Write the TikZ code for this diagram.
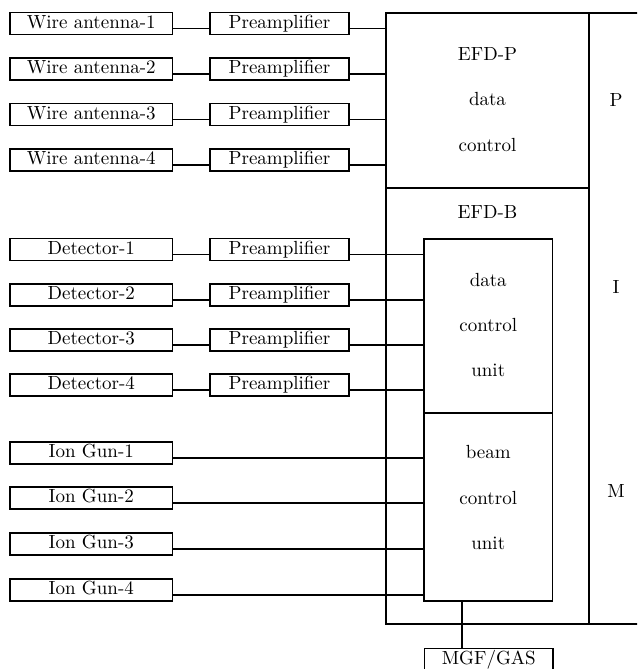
\documentclass[tikz,border=0pt]{standalone}
\usepackage{amsmath}
\tikzset{box/.style={draw, rectangle, line width=0.7pt, inner sep=0pt, minimum height=11pt,
    text height=6.8pt, text depth=2pt, font=\fontsize{9.5}{11}\selectfont},
  frame/.style={draw, rectangle, line width=0.7pt, inner sep=0pt},
  lbl/.style={anchor=base, inner sep=0pt, font=\fontsize{9.5}{11}\selectfont},
  line/.style={draw, line width=0.7pt}}

\begin{document}
\begin{tikzpicture}[x=0.5pt,y=-0.5pt]
    \useasboundingbox (0,0) rectangle (637,669);
    \clip (0,0) rectangle (637,669);
    % sensors
    \node[box, minimum width=81.35pt] (ant1) at (91.3,23.5) {Wire antenna-1};
    \node[box, minimum width=81.35pt] (ant2) at (91.3,69) {Wire antenna-2};
    \node[box, minimum width=81.35pt] (ant3) at (91.3,114.5) {Wire antenna-3};
    \node[box, minimum width=81.35pt] (ant4) at (91.3,160) {Wire antenna-4};
    \node[box, minimum width=81.35pt] (det1) at (91.3,249.5) {Detector-1};
    \node[box, minimum width=81.35pt] (det2) at (91.3,295) {Detector-2};
    \node[box, minimum width=81.35pt] (det3) at (91.3,340) {Detector-3};
    \node[box, minimum width=81.35pt] (det4) at (91.3,385) {Detector-4};
    \node[box, minimum width=81.35pt] (gun1) at (91.3,453) {Ion Gun-1};
    \node[box, minimum width=81.35pt] (gun2) at (91.3,498) {Ion Gun-2};
    \node[box, minimum width=81.35pt] (gun3) at (91.3,544) {Ion Gun-3};
    \node[box, minimum width=81.35pt] (gun4) at (91.3,590) {Ion Gun-4};
    % preamplifiers
    \node[box, minimum width=69.5pt] (pa1) at (279.5,23.5) {Preamplifier};
    \node[box, minimum width=69.5pt] (pa2) at (279.5,69) {Preamplifier};
    \node[box, minimum width=69.5pt] (pa3) at (279.5,114.5) {Preamplifier};
    \node[box, minimum width=69.5pt] (pa4) at (279.5,160) {Preamplifier};
    \node[box, minimum width=69.5pt] (pd1) at (279.5,249.5) {Preamplifier};
    \node[box, minimum width=69.5pt] (pd2) at (279.5,295) {Preamplifier};
    \node[box, minimum width=69.5pt] (pd3) at (279.5,340) {Preamplifier};
    \node[box, minimum width=69.5pt] (pd4) at (279.5,385) {Preamplifier};
    % electronics
    \node[frame, minimum width=101.5pt, minimum height=87.5pt] (efdp) at (487.5,100.5) {};
    \node[frame, minimum width=101.5pt, minimum height=218pt] (efdb) at (487.5,406) {};
    \node[frame, minimum width=30.5pt, minimum height=305.5pt] (pim) at (619.5,318.5) {};
    \node[frame, minimum width=64.25pt, minimum height=87pt] (dcu) at (488.25,326) {};
    \node[frame, minimum width=64.25pt, minimum height=94pt] (bcu) at (488.25,507) {};
    \node[box, minimum width=64.25pt, anchor=north] (mgf) at (488.75,648) {MGF/GAS};
    \node[lbl] (tp1) at (487.5,60) {EFD-P};
    \node[lbl] (tp2) at (487.5,105) {data};
    \node[lbl] (tp3) at (487.5,151) {control};
    \node[lbl] (tb1) at (487.5,218) {EFD-B};
    \node[lbl] (td1) at (488.25,286) {data};
    \node[lbl] (td2) at (488.25,331.5) {control};
    \node[lbl] (td3) at (488.25,376) {unit};
    \node[lbl] (tc1) at (488.25,458.5) {beam};
    \node[lbl] (tc2) at (488.25,504) {control};
    \node[lbl] (tc3) at (488.25,549.5) {unit};
    \node[lbl] (pP) at (616,106) {P};
    \node[lbl] (pI) at (616,293) {I};
    \node[lbl] (pM) at (616,497) {M};
    % connections
    \draw[line] (ant1.base east) -- (pa1.base west);
    \draw[line] (ant2.base east) -- (pa2.base west);
    \draw[line] (ant3.base east) -- (pa3.base west);
    \draw[line] (ant4.base east) -- (pa4.base west);
    \draw[line] (det1.base east) -- (pd1.base west);
    \draw[line] (det2.base east) -- (pd2.base west);
    \draw[line] (det3.base east) -- (pd3.base west);
    \draw[line] (det4.base east) -- (pd4.base west);
    \draw[line] (pa1.base east) -- (pa1.base east -| efdp.west);
    \draw[line] (pa2.base east) -- (pa2.base east -| efdp.west);
    \draw[line] (pa3.base east) -- (pa3.base east -| efdp.west);
    \draw[line] (pa4.base east) -- (pa4.base east -| efdp.west);
    \draw[line] (pd1.base east) -- (pd1.base east -| dcu.west);
    \draw[line] (pd2.base east) -- (pd2.base east -| dcu.west);
    \draw[line] (pd3.base east) -- (pd3.base east -| dcu.west);
    \draw[line] (pd4.base east) -- (pd4.base east -| dcu.west);
    \draw[line] (gun1.base east) -- (gun1.base east -| bcu.west);
    \draw[line] (gun2.base east) -- (gun2.base east -| bcu.west);
    \draw[line] (gun3.base east) -- (gun3.base east -| bcu.west);
    \draw[line] (gun4.base east) -- (gun4.base east -| bcu.west);
    \coordinate (tap) at (462,0);
    \draw[line] (bcu.south -| tap) -- (mgf.north -| tap);
  \end{tikzpicture}
\end{document}
